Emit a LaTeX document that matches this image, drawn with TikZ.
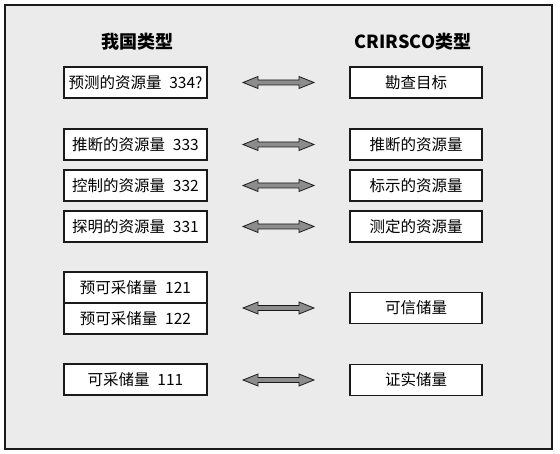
\documentclass[tikz,border=0pt]{standalone}
\usepackage{fontspec}
\setmainfont{Noto Sans CJK SC}
\usetikzlibrary{positioning,calc}
\definecolor{Ink}{HTML}{1A1A1A}
\definecolor{Panel}{HTML}{EBEBEB}
\definecolor{ArrowGray}{HTML}{8C8C8C}
\newcommand{\Link}[2]{%
  \filldraw[fill=ArrowGray,draw=Ink,line width=0.8pt,line join=miter]
    let \p1=(#1.east), \p2=(#2.west) in
    (\x1+36pt,\y2) -- ++(15pt,6pt) -- ++(0,-3.5pt) -- (\x2-51pt,\y2+2.5pt)
    -- ++(0,3.5pt) -- (\x2-36pt,\y2) -- ++(-15pt,-6pt) -- ++(0,3.5pt)
    -- (\x1+51pt,\y2-2.5pt) -- ++(0,-3.5pt) -- cycle;%
}

\begin{document}
\begin{tikzpicture}[x=1pt,y=1pt,
  lbox/.style={draw=Ink,fill=white,line width=1.3pt,outer sep=0pt,inner sep=0pt,
    minimum width=143pt,minimum height=31pt,font=\fontsize{15.5}{18}\selectfont},
  rbox/.style={lbox,minimum width=132pt},
  head/.style={font=\fontsize{18}{21}\selectfont\bfseries}]
\path[use as bounding box] (0,0) rectangle (560,454);
\draw[Ink,line width=1.6pt,fill=Panel] (5,5) rectangle (552,449);
% column heads
\node[head] (lhead) at (137,412) {我国类型};
\node[head] (rhead) at (413,412) {CRIRSCO类型};
% our classes
\node[lbox] (p334) at (135.5,371.5) {预测的资源量\enspace 334?};
\node[lbox] (p333) at (135.5,309.5) {推断的资源量\enspace 333};
\node[lbox] (p332) at (135.5,268.5) {控制的资源量\enspace 332};
\node[lbox] (p331) at (135.5,227.5) {探明的资源量\enspace 331};
\node[lbox] (p121) at (135.5,166.5) {预可采储量\enspace 121};
\node[lbox,below=0pt of p121] (p122) {预可采储量\enspace 122};
\node[lbox] (p111) at (135.5,74.5) {可采储量\enspace 111};
% CRIRSCO classes
\node[rbox] (goal) at (416,371.5) {勘查目标};
\node[rbox] (inferred) at (416,309.5) {推断的资源量};
\node[rbox] (indicated) at (416,268.5) {标示的资源量};
\node[rbox] (measured) at (416,227.5) {测定的资源量};
\node[rbox] (probable) at (416,146) {可信储量};
\node[rbox] (proved) at (416,74) {证实储量};
% links
\Link{p334}{goal}
\Link{p333}{inferred}
\Link{p332}{indicated}
\Link{p331}{measured}
\Link{p121}{probable}
\Link{p111}{proved}
\end{tikzpicture}
\end{document}
